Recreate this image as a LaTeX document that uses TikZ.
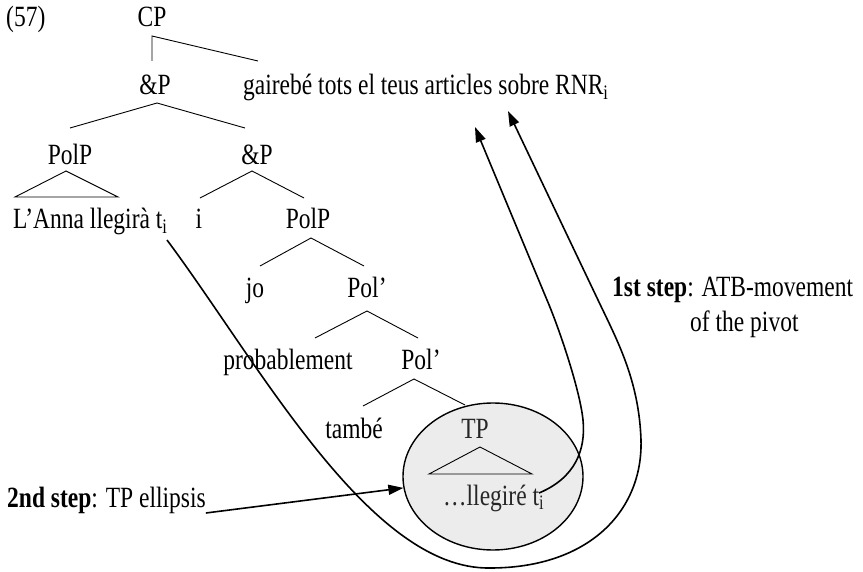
\documentclass[tikz,border=0pt]{standalone}
\usepackage{fontspec}
\setmainfont{Liberation Serif}
\usetikzlibrary{arrows.meta,shapes.geometric}
\newcommand\vtx[1]{\scalebox{1}[1.25]{#1}}
\begin{document}
\begin{tikzpicture}[x=1pt,y=-1pt,
  lbl/.style={anchor=base,inner sep=0pt,font=\fontsize{23.5}{28}\selectfont},
  branch/.style={line width=0.9pt},
  mv/.style={line width=1.6pt,-{Triangle[length=15pt,width=10pt]}}]
\useasboundingbox (0,0) rectangle (863,572);

% ellipse around the elided TP
\node[draw,ellipse,line width=1.4pt,fill=gray!15,minimum width=180pt,minimum height=147pt,inner sep=0pt] (tpcirc) at (493,476.5) {};

% labels
\node[lbl,anchor=base west] (ex) at (6,27) {\vtx{(57)}};
\node[lbl] (cp) at (152,27) {\vtx{CP}};
\node[lbl] (andp) at (155,95) {\vtx{\&P}};
\node[lbl,anchor=base west] (piv) at (243,95) {\vtx{gairebé tots el teus articles sobre RNR\textsubscript{i}}};
\node[lbl] (polpa) at (70,165) {\vtx{PolP}};
\node[lbl] (andpb) at (257,165) {\vtx{\&P}};
\node[lbl,anchor=base west] (anna) at (13,229) {\vtx{L’Anna llegirà t\textsubscript{i}}};
\node[lbl] (conj) at (199,229) {\vtx{i}};
\node[lbl] (polpb) at (308,229) {\vtx{PolP}};
\node[lbl] (jo) at (255,298) {\vtx{jo}};
\node[lbl] (polbara) at (367,298) {\vtx{Pol’}};
\node[lbl] (prob) at (288,370) {\vtx{probablement}};
\node[lbl] (polbarb) at (421,370) {\vtx{Pol’}};
\node[lbl] (tambe) at (354,438) {\vtx{també}};
\node[lbl,text=black!85] (tp) at (475,438) {\vtx{TP}};
\node[lbl,anchor=base west,text=black!85] (lleg) at (443,505) {\vtx{\ldots llegiré t\textsubscript{i}}};
\node[lbl,anchor=base west] (stepa) at (612,297) {\vtx{\textbf{1st step}: ATB-movement}};
\node[lbl,anchor=base west] (stepaa) at (690,332) {\vtx{of the pivot}};
\node[lbl,anchor=base west] (stepb) at (7,507) {\vtx{\textbf{2nd step}: TP ellipsis}};

% tree branches
\coordinate (cpa) at (152,36);
\coordinate (cpl) at (152,61);
\coordinate (cpr) at (258,61);
\draw[branch] (cpl) -- (cpa) -- (cpr);
\coordinate (apa) at (157,103);
\coordinate (apl) at (70,128);
\coordinate (apr) at (245,128);
\draw[branch] (apl) -- (apa) -- (apr);
\coordinate (ta) at (66,171);
\coordinate (tl) at (15,197);
\coordinate (tr) at (118,197);
\draw[branch] (ta) -- (tl) -- (tr) -- cycle;
\coordinate (bpa) at (252,171);
\coordinate (bpl) at (200,198);
\coordinate (bpr) at (304,198);
\draw[branch] (bpl) -- (bpa) -- (bpr);
\coordinate (ppa) at (311,238);
\coordinate (ppl) at (260,266);
\coordinate (ppr) at (364,266);
\draw[branch] (ppl) -- (ppa) -- (ppr);
\coordinate (qa) at (367,311);
\coordinate (ql) at (315,338);
\coordinate (qr) at (418,338);
\draw[branch] (ql) -- (qa) -- (qr);
\coordinate (ra) at (414,379);
\coordinate (rl) at (363,406);
\coordinate (rr) at (465,405);
\draw[branch] (rl) -- (ra) -- (rr);
\coordinate (sa) at (480,447);
\coordinate (sl) at (429,474);
\coordinate (sr) at (532,474);
\draw[branch] (sa) -- (sl) -- (sr) -- cycle;

% movement arrows
\coordinate (annati) at (167,240);
\coordinate (llegti) at (539,493);
\coordinate (tipa) at (475,127);
\coordinate (tipb) at (508,111);
\draw[mv] (llegti) .. controls (575,478) and (586,450) .. (583,420)
  .. controls (580,390) and (559,328) .. (547,300) -- (tipa);
\draw[mv] (annati) .. controls (260,365) and (370,570) .. (490,568)
  .. controls (590,568) and (643,510) .. (641,440)
  .. controls (639,380) and (617,340) .. (598,300) -- (tipb);
\draw[mv] ([shift={(0,6)}]stepb.base east) -- (tpcirc);
\end{tikzpicture}
\end{document}
